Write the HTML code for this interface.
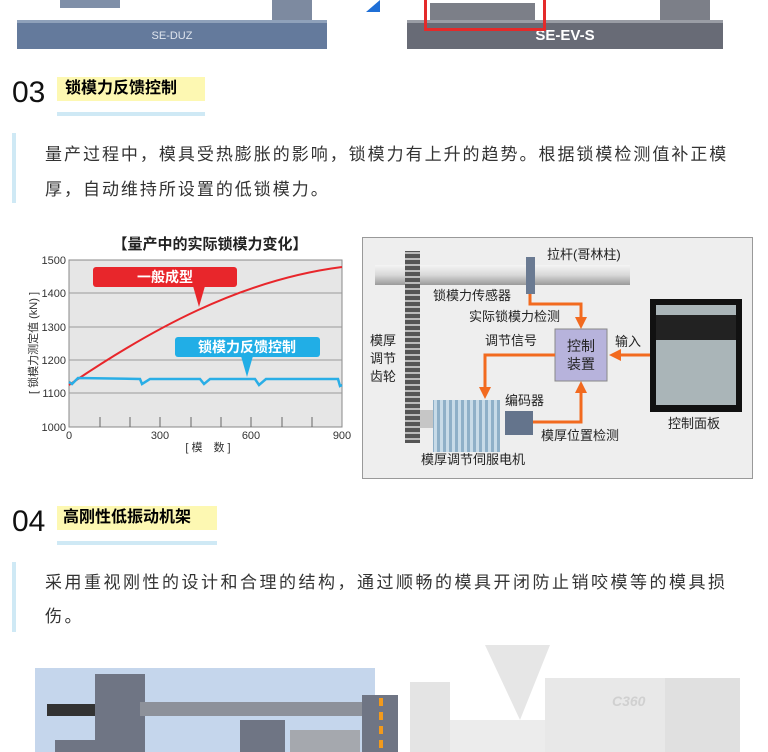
<!DOCTYPE html><html><head><meta charset="utf-8"><style>
body{margin:0;width:768px;height:752px;overflow:hidden;background:#fff;font-family:"Liberation Sans","Noto Sans CJK SC",sans-serif;position:relative}
.a{position:absolute;white-space:nowrap}
.p{color:#333;font-size:17px;letter-spacing:2px}
</style></head><body>
<!-- top machines -->
<div class="a" style="left:60px;top:0;width:60px;height:8px;background:#7f8fa8"></div>
<div class="a" style="left:272px;top:0;width:40px;height:22px;background:#7d8aa0"></div>
<div class="a" style="left:17px;top:20px;width:310px;height:3px;background:#8fa1ba"></div>
<div class="a" style="left:17px;top:23px;width:310px;height:26px;background:#647a9c;color:#dfe5ee;font-size:11px;text-align:center;line-height:26px">SE-DUZ</div>
<svg class="a" style="left:366px;top:0" width="14" height="12"><polygon points="14,0 0,12 14,12" fill="#1f6fd6"/></svg>
<div class="a" style="left:430px;top:3px;width:105px;height:18px;background:#7c7f88"></div>
<div class="a" style="left:660px;top:0;width:50px;height:22px;background:#7c7f88"></div>
<div class="a" style="left:407px;top:20px;width:316px;height:3px;background:#9a9da5"></div>
<div class="a" style="left:407px;top:23px;width:316px;height:26px;background:#686b76;color:#fff;font-size:15px;font-weight:bold;text-align:center;line-height:26px">SE-EV-S</div>
<div class="a" style="left:424px;top:-3px;width:116px;height:28px;border:3px solid #e42a2a"></div>
<!-- 03 -->
<div class="a" style="left:12px;top:76px;font-size:30px;color:#111">03</div>
<div class="a" style="left:57px;top:77px;width:148px;height:24px;background:#fdf8b2;font-size:16px;font-weight:bold;line-height:24px;padding-left:8px;box-sizing:border-box">锁模力反馈控制</div>
<div class="a" style="left:57px;top:112px;width:148px;height:4px;background:#cfe9f5"></div>
<div class="a" style="left:12px;top:133px;width:4px;height:70px;background:#cfe9f5"></div>
<div class="a p" style="left:45px;top:140px;letter-spacing:1.98px">量产过程中，模具受热膨胀的影响，锁模力有上升的趋势。根据锁模检测值补正模</div>
<div class="a p" style="left:45px;top:175px;letter-spacing:1.98px">厚，自动维持所设置的低锁模力。</div>
<!-- chart -->
<svg class="a" style="left:0;top:225px" width="360" height="240">
<text x="210" y="24" font-size="15" font-weight="bold" text-anchor="middle" fill="#222">【量产中的实际锁模力变化】</text>
<rect x="69" y="35" width="273" height="167" fill="#e6e6e6" stroke="#888"/>
<g stroke="#999"><line x1="69" y1="68" x2="342" y2="68"/><line x1="69" y1="102" x2="342" y2="102"/><line x1="69" y1="135" x2="342" y2="135"/><line x1="69" y1="168" x2="342" y2="168"/></g>
<g stroke="#666"><line x1="100" y1="192" x2="100" y2="202"/><line x1="130" y1="192" x2="130" y2="202"/><line x1="160" y1="192" x2="160" y2="202"/><line x1="191" y1="192" x2="191" y2="202"/><line x1="221" y1="192" x2="221" y2="202"/><line x1="251" y1="192" x2="251" y2="202"/><line x1="282" y1="192" x2="282" y2="202"/><line x1="312" y1="192" x2="312" y2="202"/></g>
<g font-size="11" fill="#333" text-anchor="end"><text x="66" y="39">1500</text><text x="66" y="72">1400</text><text x="66" y="106">1300</text><text x="66" y="139">1200</text><text x="66" y="172">1100</text><text x="66" y="206">1000</text></g>
<g font-size="11" fill="#333" text-anchor="middle"><text x="69" y="214">0</text><text x="160" y="214">300</text><text x="251" y="214">600</text><text x="342" y="214">900</text><text x="208" y="226">[ 模　数 ]</text></g>
<text transform="translate(37,118) rotate(-90)" font-size="11" fill="#333" text-anchor="middle">[ 锁模力测定值 (kN) ]</text>
<path d="M69,160 C150,105 240,55 342,42" stroke="#e8262b" stroke-width="2" fill="none"/>
<path d="M69,157 L72,159 L78,153 L140,154 L142,159 L150,154 L200,154 L204,159 L210,154 L255,154 L259,160 L266,154 L338,154 L340,161 L342,160" stroke="#2aaee6" stroke-width="2.5" fill="none"/>
<rect x="93" y="42" width="144" height="20" rx="3" fill="#e8262b"/><polygon points="193,61 205,61 199,82" fill="#e8262b"/>
<text x="165" y="57" font-size="14" fill="#fff" text-anchor="middle" font-weight="bold">一般成型</text>
<rect x="175" y="112" width="145" height="20" rx="3" fill="#21aee6"/><polygon points="241,131 253,131 247,152" fill="#21aee6"/>
<text x="247" y="127" font-size="14" fill="#fff" text-anchor="middle" font-weight="bold">锁模力反馈控制</text>
</svg>
<!-- diagram -->
<svg class="a" style="left:362px;top:237px" width="391" height="242" font-size="13" fill="#222">
<rect x="0.5" y="0.5" width="390" height="241" fill="#eeeeee" stroke="#999"/>
<defs><linearGradient id="r" x1="0" y1="0" x2="0" y2="1"><stop offset="0" stop-color="#f4f4f4"/><stop offset="0.5" stop-color="#d8d8d8"/><stop offset="1" stop-color="#9a9a9a"/></linearGradient>
<pattern id="g" width="15" height="6" patternUnits="userSpaceOnUse"><rect width="15" height="6" fill="#555"/><rect y="3" width="15" height="2" fill="#bbb"/></pattern>
<pattern id="m" width="6" height="52" patternUnits="userSpaceOnUse"><rect width="6" height="52" fill="#8fb0c8"/><rect width="3" height="52" fill="#c8dbe8"/></pattern></defs>
<rect x="13" y="28" width="255" height="20" fill="url(#r)"/>
<rect x="43" y="14" width="15" height="192" fill="url(#g)"/>
<rect x="164" y="20" width="9" height="37" fill="#6a7a92"/>
<rect x="58" y="173" width="80" height="18" fill="#c6c6c6"/>
<rect x="71" y="163" width="67" height="52" fill="url(#m)"/>
<rect x="143" y="174" width="28" height="24" fill="#64748c"/>
<rect x="193" y="92" width="52" height="52" fill="#b7b3dc" stroke="#888"/>
<text x="219" y="114" text-anchor="middle" font-size="14">控制</text><text x="219" y="132" text-anchor="middle" font-size="14">装置</text>
<rect x="288" y="62" width="92" height="113" fill="#111"/><rect x="294" y="68" width="80" height="100" fill="#aab5b8"/>
<rect x="294" y="78" width="80" height="25" fill="#222"/>
<g stroke="#f26a1f" stroke-width="3" fill="none"><path d="M168,57 V67 H219 V82"/><path d="M193,118 H123 V152"/><path d="M171,185 H219 V154"/><path d="M288,118 H258"/></g>
<g fill="#f26a1f"><polygon points="213,80 225,80 219,92"/><polygon points="117,150 129,150 123,162"/><polygon points="213,156 225,156 219,144"/><polygon points="259,112 259,124 247,118"/></g>
<text x="185" y="22">拉杆(哥林柱)</text>
<text x="71" y="63">锁模力传感器</text>
<text x="107" y="84">实际锁模力检测</text>
<text x="123" y="108">调节信号</text>
<text x="253" y="109">输入</text>
<text x="8" y="108">模厚</text><text x="8" y="126">调节</text><text x="8" y="144">齿轮</text>
<text x="143" y="168">编码器</text>
<text x="179" y="203">模厚位置检测</text>
<text x="306" y="191">控制面板</text>
<text x="59" y="227">模厚调节伺服电机</text>
</svg>
<!-- 04 -->
<div class="a" style="left:12px;top:505px;font-size:30px;color:#111">04</div>
<div class="a" style="left:57px;top:506px;width:160px;height:24px;background:#fdf8b2;font-size:16px;font-weight:bold;line-height:24px;padding-left:6px;box-sizing:border-box">高刚性低振动机架</div>
<div class="a" style="left:57px;top:541px;width:160px;height:4px;background:#cfe9f5"></div>
<div class="a" style="left:12px;top:562px;width:4px;height:70px;background:#cfe9f5"></div>
<div class="a p" style="left:45px;top:568px;letter-spacing:2.5px">采用重视刚性的设计和合理的结构，通过顺畅的模具开闭防止销咬模等的模具损</div>
<div class="a p" style="left:45px;top:602px;letter-spacing:2.5px">伤。</div>
<!-- bottom machine -->
<svg class="a" style="left:0;top:640px" width="768" height="112">
<rect x="35" y="28" width="340" height="84" fill="#c5d6ec"/>
<rect x="410" y="80" width="330" height="32" fill="#ececec"/>
<polygon points="485,5 550,5 520,80" fill="#e6e6e6"/>
<rect x="545" y="38" width="190" height="74" fill="#e8e8e8"/>
<rect x="665" y="38" width="75" height="74" fill="#e0e0e0"/>
<rect x="410" y="42" width="40" height="70" fill="#e4e4e4"/>
<text x="612" y="66" font-size="14" font-style="italic" font-weight="bold" fill="#d0d0d0">C360</text>
<rect x="47" y="64" width="50" height="12" fill="#333"/>
<rect x="95" y="34" width="50" height="78" fill="#6f7584"/>
<rect x="55" y="100" width="40" height="12" fill="#6f7584"/>
<rect x="140" y="62" width="225" height="14" fill="#8d919a"/>
<rect x="240" y="80" width="45" height="32" fill="#6f7584"/>
<rect x="290" y="90" width="70" height="22" fill="#a5a8ae"/>
<rect x="362" y="55" width="36" height="57" fill="#6f7584"/>
<line x1="381" y1="58" x2="381" y2="112" stroke="#f29a1c" stroke-width="4" stroke-dasharray="8,6"/>
</svg>
</body></html>
